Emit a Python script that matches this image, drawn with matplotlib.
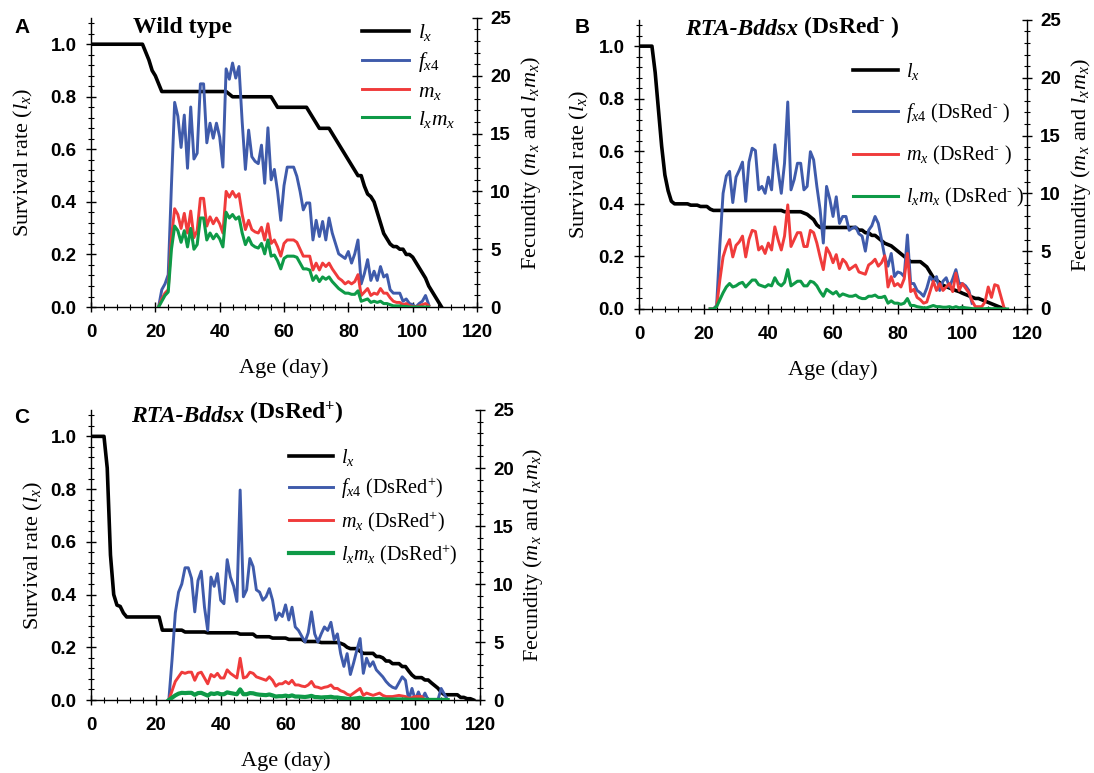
import numpy as np
import matplotlib
matplotlib.use('Agg')
import matplotlib.pyplot as plt
from matplotlib.ticker import MultipleLocator

plt.rcParams['font.family'] = ['Liberation Sans', 'DejaVu Sans']
plt.rcParams['mathtext.fontset'] = 'custom'
plt.rcParams['mathtext.rm'] = 'Liberation Serif'
plt.rcParams['mathtext.it'] = 'Liberation Serif:italic'
plt.rcParams['mathtext.bf'] = 'Liberation Serif:bold'

SERIF = 'Liberation Serif'
BLUE = '#3f5bab'
RED = '#f03b3b'
GREEN = '#0e9a47'

# ---------------- data (one value per day) ----------------
# A: wild type
lx_wt = [1.0, 1.0, 1.0, 1.0, 1.0, 1.0, 1.0, 1.0, 1.0, 1.0,
         1.0, 1.0, 1.0, 1.0, 1.0, 1.0, 1.0, 0.97, 0.94, 0.90,
         0.88, 0.85, 0.82, 0.82, 0.82, 0.82, 0.82, 0.82, 0.82, 0.82,
         0.82, 0.82, 0.82, 0.82, 0.82, 0.82, 0.82, 0.82, 0.82, 0.82,
         0.82, 0.82, 0.82, 0.81, 0.80, 0.80, 0.80, 0.80, 0.80, 0.80,
         0.80, 0.80, 0.80, 0.80, 0.80, 0.80, 0.80, 0.78, 0.76, 0.76,
         0.76, 0.76, 0.76, 0.76, 0.76, 0.76, 0.76, 0.76, 0.74, 0.72,
         0.70, 0.68, 0.68, 0.68, 0.68, 0.66, 0.64, 0.62, 0.60, 0.58,
         0.56, 0.54, 0.52, 0.50, 0.50, 0.46, 0.43, 0.42, 0.40, 0.36,
         0.32, 0.28, 0.26, 0.24, 0.23, 0.23, 0.22, 0.22, 0.20, 0.20,
         0.19, 0.17, 0.15, 0.13, 0.11, 0.08, 0.06, 0.04, 0.02, 0.0]
wt_start = 21
fx4_wt = [0, 1.5, 2.0, 2.8, 10.5, 17.7, 16.5, 13.8, 16.6, 12.0,
          17.3, 12.8, 13.3, 19.3, 19.3, 14.2, 15.9, 14.6, 15.9, 14.7,
          12.1, 20.6, 19.7, 21.1, 19.8, 20.8, 16.0, 11.9, 15.3, 13.0,
          12.6, 12.4, 14.0, 10.7, 15.5, 11.0, 11.9, 10.0, 7.5, 10.5,
          12.1, 12.1, 12.1, 11.3, 10.0, 8.4, 9.0, 9.0, 5.8, 7.5,
          6.1, 7.4, 5.8, 7.7, 6.4, 5.5, 4.6, 4.4, 4.2, 4.8,
          3.8, 4.6, 5.8, 2.0, 2.9, 4.1, 2.3, 3.1, 2.3, 3.5,
          2.6, 2.8, 1.5, 1.2, 1.2, 1.2, 0.5, 0.7, 0.3, 0.2,
          0, 0.3, 0.5, 1.0, 0.2]
mx_wt = [0, 0.7, 1.2, 1.5, 6.0, 8.5, 8.0, 6.8, 8.1, 6.4,
         8.3, 6.0, 6.6, 9.4, 9.4, 7.0, 7.8, 7.2, 7.7, 7.2,
         6.4, 10.0, 9.5, 10.0, 9.5, 9.8, 8.0, 6.7, 7.5, 6.7,
         6.5, 6.4, 6.9, 5.8, 7.2, 5.5, 5.8, 5.2, 4.4, 5.5,
         5.8, 5.8, 5.8, 5.6, 5.0, 4.4, 4.4, 4.4, 3.2, 3.8,
         3.2, 3.8, 3.5, 3.8, 3.3, 2.9, 2.5, 2.3, 2.0, 2.2,
         2.0, 2.2, 2.8, 1.0, 1.3, 1.6, 1.0, 1.2, 1.1, 1.6,
         1.2, 1.2, 0.8, 0.5, 0.4, 0.4, 0.2, 0.3, 0.1, 0.05,
         0, 0.1, 0.2, 0.3, 0.1]
lxmx_wt = [0, 0.5, 1.0, 1.3, 5.0, 7.0, 6.6, 5.6, 6.6, 5.2,
           6.8, 5.0, 5.4, 7.7, 7.7, 5.8, 6.4, 5.9, 6.3, 5.9,
           5.2, 8.2, 7.7, 8.0, 7.6, 7.8, 6.4, 5.4, 6.0, 5.4,
           5.2, 5.1, 5.5, 4.6, 5.8, 4.4, 4.5, 4.0, 3.3, 4.2,
           4.4, 4.4, 4.4, 4.3, 3.8, 3.3, 3.3, 3.2, 2.3, 2.7,
           2.2, 2.6, 2.4, 2.6, 2.2, 1.9, 1.6, 1.4, 1.2, 1.2,
           1.1, 1.1, 1.4, 0.5, 0.6, 0.7, 0.4, 0.5, 0.4, 0.5,
           0.3, 0.3, 0.2, 0.1, 0.1, 0.1, 0.05, 0.05, 0, 0,
           0, 0, 0, 0, 0]

# B: RTA-Bddsx (DsRed-)
lx_neg = [1.0, 1.0, 1.0, 1.0, 1.0, 0.90, 0.76, 0.62, 0.51, 0.45,
          0.41, 0.40, 0.40, 0.40, 0.40, 0.40, 0.395, 0.395, 0.395, 0.39,
          0.39, 0.39, 0.38, 0.375, 0.375, 0.375, 0.375, 0.375, 0.375, 0.375,
          0.375, 0.375, 0.375, 0.375, 0.375, 0.375, 0.375, 0.375, 0.375, 0.375,
          0.375, 0.375, 0.375, 0.375, 0.375, 0.37, 0.37, 0.37, 0.37, 0.37,
          0.37, 0.365, 0.36, 0.35, 0.34, 0.32, 0.31, 0.31, 0.31, 0.31,
          0.31, 0.31, 0.31, 0.31, 0.31, 0.31, 0.31, 0.31, 0.30, 0.30,
          0.29, 0.29, 0.28, 0.28, 0.27, 0.26, 0.25, 0.245, 0.24, 0.23,
          0.22, 0.21, 0.20, 0.19, 0.18, 0.18, 0.18, 0.18, 0.17, 0.16,
          0.14, 0.12, 0.11, 0.10, 0.09, 0.085, 0.08, 0.075, 0.07, 0.066,
          0.06, 0.055, 0.05, 0.045, 0.04, 0.04, 0.035, 0.03, 0.025, 0.02,
          0.015, 0.01, 0.005, 0.0]
neg_start = 22
fx4_neg = [0, 0, 0.3, 5.5, 10.0, 11.5, 11.9, 9.2, 11.4, 12.0,
           12.7, 9.3, 12.7, 13.9, 13.7, 10.3, 10.6, 10.0, 11.4, 10.3,
           14.2, 12.0, 10.0, 12.6, 17.9, 10.3, 11.2, 12.6, 12.6, 10.3,
           10.6, 13.6, 12.9, 10.6, 8.6, 5.7, 10.6, 9.5, 8.0, 9.7,
           7.4, 8.0, 8.0, 6.8, 7.0, 7.1, 6.5, 6.3, 5.0, 6.8,
           7.2, 8.0, 7.4, 6.0, 4.5, 3.7, 4.8, 2.8, 3.2, 3.1,
           2.8, 6.4, 2.2, 2.2, 1.6, 1.4, 1.1, 1.8, 2.8, 2.4,
           2.8, 1.6, 2.4, 2.7, 1.9, 2.6, 3.4, 2.2, 2.2, 2.0,
           1.6, 0.5]
mx_neg = [0, 0, 0.2, 2.5, 4.5, 5.4, 6.0, 4.5, 5.5, 5.8,
          6.3, 4.5, 6.0, 6.8, 6.7, 5.1, 5.4, 4.8, 5.7, 5.1,
          7.1, 6.0, 5.1, 6.3, 9.0, 5.4, 6.0, 6.6, 6.6, 5.4,
          5.4, 6.8, 6.6, 5.7, 4.5, 3.4, 5.3, 4.8, 4.0, 4.7,
          3.5, 4.3, 4.0, 3.4, 3.6, 3.8, 3.2, 3.1, 3.0, 3.8,
          4.0, 4.3, 3.7, 4.0, 4.6, 1.9, 2.8, 2.0, 2.2, 1.9,
          2.6, 4.8, 1.5, 1.7, 1.0, 0.8, 0.5, 0.6, 1.5, 2.4,
          1.6, 2.2, 1.6, 1.9, 2.2, 1.5, 3.1, 1.6, 2.2, 1.8,
          1.4, 0.7, 0.2, 0.2, 0.2, 0.6, 1.9, 1.0, 2.1, 2.0,
          1.0, 0]
lxmx_neg = [0, 0, 0.2, 0.8, 1.4, 1.9, 2.2, 1.9, 2.0, 2.2,
            2.3, 1.9, 2.2, 2.5, 2.5, 2.1, 2.0, 1.9, 2.1, 2.0,
            2.7, 2.2, 2.0, 2.3, 3.4, 2.0, 2.2, 2.4, 2.4, 2.0,
            2.0, 2.4, 2.3, 2.0, 1.5, 1.1, 1.7, 1.5, 1.3, 1.5,
            1.1, 1.3, 1.2, 1.1, 1.1, 1.2, 1.0, 0.9, 0.9, 1.1,
            1.1, 1.2, 1.0, 1.0, 1.1, 0.5, 0.7, 0.5, 0.5, 0.4,
            0.5, 0.9, 0.3, 0.3, 0.2, 0.15, 0.1, 0.1, 0.2, 0.3,
            0.2, 0.2, 0.15, 0.15, 0.2, 0.1, 0.2, 0.1, 0.15, 0.1,
            0.07, 0.03, 0.01, 0.01, 0.01, 0.02, 0.05, 0.02, 0.03, 0.02,
            0.01, 0, 0]

# C: RTA-Bddsx (DsRed+)
lx_pos = [1.0, 1.0, 1.0, 1.0, 1.0, 0.88, 0.55, 0.40, 0.36, 0.355,
          0.33, 0.315, 0.315, 0.315, 0.315, 0.315, 0.315, 0.315, 0.315, 0.315,
          0.315, 0.315, 0.265, 0.265, 0.265, 0.265, 0.265, 0.265, 0.265, 0.258,
          0.258, 0.258, 0.258, 0.258, 0.258, 0.258, 0.255, 0.255, 0.255, 0.255,
          0.255, 0.255, 0.255, 0.255, 0.255, 0.255, 0.25, 0.25, 0.25, 0.25,
          0.25, 0.24, 0.24, 0.24, 0.24, 0.24, 0.235, 0.235, 0.235, 0.235,
          0.235, 0.23, 0.23, 0.23, 0.23, 0.23, 0.222, 0.222, 0.222, 0.222,
          0.222, 0.218, 0.218, 0.218, 0.218, 0.218, 0.218, 0.215, 0.21, 0.20,
          0.195, 0.195, 0.195, 0.185, 0.177, 0.177, 0.177, 0.177, 0.165, 0.165,
          0.16, 0.148, 0.148, 0.138, 0.138, 0.138, 0.127, 0.127, 0.11, 0.095,
          0.085, 0.085, 0.085, 0.076, 0.076, 0.065, 0.055, 0.045, 0.03, 0.02,
          0.02, 0.02, 0.02, 0.02, 0.01, 0.01, 0.005, 0.005, 0.0]
pos_start = 24
fx4_pos = [0, 3.5, 7.5, 9.3, 10.0, 11.4, 11.4, 10.5, 7.6, 10.3,
           11.1, 8.0, 6.0, 10.6, 9.8, 10.9, 8.6, 8.3, 12.1, 10.6,
           9.8, 8.5, 18.1, 8.9, 9.5, 12.2, 11.5, 9.5, 9.3, 8.6,
           8.9, 9.6, 8.6, 6.9, 7.5, 7.2, 8.2, 6.9, 8.0, 6.3,
           6.0, 5.5, 5.0, 5.8, 7.6, 5.7, 5.0, 5.7, 6.3, 6.0,
           6.7, 5.2, 5.7, 4.0, 2.9, 4.0, 2.2, 3.2, 4.3, 5.3,
           2.3, 3.6, 2.9, 3.3, 2.6, 2.3, 2.0, 1.6, 1.3, 1.1,
           1.0, 1.5, 2.0, 1.7, 0, 1.0, 0, 0.7, 0, 0.6,
           0, 0, 0, 0, 1.0, 0.5, 0]
mx_pos = [0, 0.8, 1.6, 2.0, 2.4, 2.3, 2.4, 2.4, 1.7, 2.3,
          2.4, 1.9, 1.4, 2.2, 2.0, 2.3, 1.9, 1.9, 2.6, 2.3,
          2.1, 1.9, 3.6, 1.9, 2.0, 2.4, 2.3, 2.0, 1.9, 1.8,
          1.7, 2.0, 1.7, 1.2, 1.4, 1.4, 1.6, 1.4, 1.7, 1.3,
          1.3, 1.2, 1.15, 1.3, 1.6, 1.15, 1.1, 1.0, 1.1, 1.15,
          1.3, 1.0, 1.0, 0.8, 0.7, 0.5, 0.4, 0.6, 0.8, 1.0,
          0.4, 0.6, 0.5, 0.4, 0.5, 0.6, 0.4, 0.3, 0.3, 0.3,
          0.35, 0.4, 0.35, 0.3, 0.15, 0.2, 0.3, 0.3, 0.3, 0]
lxmx_pos = [0, 0.2, 0.4, 0.55, 0.62, 0.6, 0.62, 0.62, 0.45, 0.6,
            0.62, 0.5, 0.38, 0.57, 0.52, 0.6, 0.5, 0.5, 0.66, 0.6,
            0.55, 0.5, 0.92, 0.5, 0.5, 0.6, 0.58, 0.5, 0.46, 0.44,
            0.42, 0.48, 0.4, 0.3, 0.33, 0.33, 0.38, 0.32, 0.4, 0.3,
            0.3, 0.28, 0.26, 0.3, 0.36, 0.26, 0.25, 0.22, 0.24, 0.25,
            0.28, 0.22, 0.22, 0.17, 0.15, 0.1, 0.08, 0.12, 0.15, 0.2,
            0.07, 0.1, 0.09, 0.07, 0.08, 0.1, 0.07, 0.05, 0.05, 0.04,
            0.05, 0.05, 0.05, 0.04, 0.02, 0.02, 0.03, 0.03, 0.02, 0.01,
            0.01, 0.01, 0.01, 0.01, 0.02, 0.01, 0]

labels_wt = [r'$l_x$', r'$f_{x\mathit{4}}$', r'$m_x$', r'$l_xm_x$']
labels_neg = [r'$l_x$', '$f_{x\\mathrm{4}}$ (DsRed$^{\\mathbf{\u2010}}$ )',
              '$m_x$ (DsRed$^{\\mathbf{\u2010}}$ )', '$l_xm_x$ (DsRed$^{\\mathbf{\u2010}}$ )']
labels_pos = [r'$l_x$', r'$f_{x\mathrm{4}}$ (DsRed$^{+}$)',
              r'$m_x$ (DsRed$^{+}$)', r'$l_xm_x$ (DsRed$^{+}$)']


def fmt(vals, nd):
    return [f'{v:.{nd}f}' for v in vals]


def draw_panel(rect, lx, start, fx4, mx, lxmx, labels, leg_xy, leg_space, leg_size,
               lpad_left, lpad_right, green_lw=2.2):
    ax = fig.add_axes(rect)
    ax2 = ax.twinx()

    h0, = ax.plot(np.arange(len(lx)), lx, color='black', lw=2.6)
    h1, = ax2.plot(np.arange(start, start + len(fx4)), fx4, color=BLUE, lw=2.1)
    h2, = ax2.plot(np.arange(start, start + len(mx)), mx, color=RED, lw=2.1)
    h3, = ax2.plot(np.arange(start, start + len(lxmx)), lxmx, color=GREEN, lw=green_lw)

    ax.set_xlim(0, 120)
    ax.set_ylim(0, 1.1)
    ax2.set_ylim(0, 25)

    xt = np.arange(0, 121, 20)
    ax.set_xticks(xt, labels=[str(v) for v in xt], fontsize=13.5, fontweight='bold')
    yt = np.arange(0, 1.01, 0.2)
    ax.set_yticks(yt, labels=fmt(yt, 1), fontsize=13.5, fontweight='bold')
    rt = np.arange(0, 26, 5)
    ax2.set_yticks(rt, labels=[str(v) for v in rt], fontsize=13.5, fontweight='bold')
    ax.xaxis.set_minor_locator(MultipleLocator(4))
    ax.yaxis.set_minor_locator(MultipleLocator(0.04))
    ax2.yaxis.set_minor_locator(MultipleLocator(1))

    for a in (ax, ax2):
        a.tick_params(which='major', direction='inout', length=7, width=1.0)
        a.tick_params(which='minor', direction='inout', length=4, width=0.8)
        a.spines['top'].set_visible(False)
        for s in a.spines.values():
            s.set_linewidth(1.0)
    ax.tick_params(axis='x', which='major', pad=9)
    ax.tick_params(axis='y', which='major', pad=7)
    ax2.tick_params(axis='y', which='major', pad=6)
    ax.spines['right'].set_visible(False)
    ax2.spines['left'].set_visible(False)
    ax2.spines['bottom'].set_visible(False)

    ax.set_xlabel('Age (day)', fontfamily=SERIF, fontsize=16, labelpad=12)
    ax.set_ylabel(r'Survival rate ($l_x$)', fontfamily=SERIF, fontsize=16, labelpad=lpad_left)
    ax2.set_ylabel(r'Fecundity ($m_x$ and $l_xm_x$)', fontfamily=SERIF, fontsize=16,
                   labelpad=lpad_right)

    ax2.legend([h0, h1, h2, h3], labels, loc='upper left', bbox_to_anchor=leg_xy,
               frameon=False, borderpad=0, borderaxespad=0, handlelength=2.2,
               handletextpad=0.4, labelspacing=leg_space,
               prop={'family': SERIF, 'size': leg_size})
    return ax, ax2


fig = plt.figure(figsize=(10.94, 7.73), dpi=100)

axA, _ = draw_panel([0.0832, 0.6028, 0.3528, 0.3740], lx_wt, wt_start, fx4_wt, mx_wt, lxmx_wt,
                    labels_wt, (0.702, 0.985), 0.33, 15.5, 11, 6)
axB, _ = draw_panel([0.5841, 0.6003, 0.3547, 0.3740], lx_neg, neg_start, fx4_neg, mx_neg, lxmx_neg,
                    labels_neg, (0.552, 0.858), 0.95, 14.5, 5, 6)
axC, _ = draw_panel([0.0832, 0.0944, 0.3556, 0.3752], lx_pos, pos_start, fx4_pos, mx_pos, lxmx_pos,
                    labels_pos, (0.509, 0.873), 0.42, 14.5, 4, 5, green_lw=3.0)

# panel titles
axA.text(0.109, 0.948, 'Wild type', transform=axA.transAxes, fontfamily=SERIF,
         fontsize=17, fontweight='bold', va='baseline')
for ax, tx, ty, tail in ((axB, 0.1186, 0.948, ' (DsRed$^{\\mathbf{\u2010}}$ )'),
                         (axC, 0.103, 0.96, r' (DsRed$^{\mathbf{+}}$)')):
    t1 = ax.text(tx, ty, 'RTA-Bddsx', transform=ax.transAxes, fontfamily=SERIF,
                 fontsize=17, fontweight='bold', fontstyle='italic', va='baseline')
    ax.annotate(tail, xy=(1, 0), xycoords=t1, fontfamily=SERIF, fontsize=17,
                fontweight='bold', ha='left', va='bottom')

# panel letters
for letter, x, y in (('A', 0.0128, 0.977), ('B', 0.5256, 0.977), ('C', 0.0128, 0.472)):
    fig.text(x, y, letter, fontsize=15, fontweight='bold', va='top', ha='left')

fig.savefig('out.png', dpi=100)
